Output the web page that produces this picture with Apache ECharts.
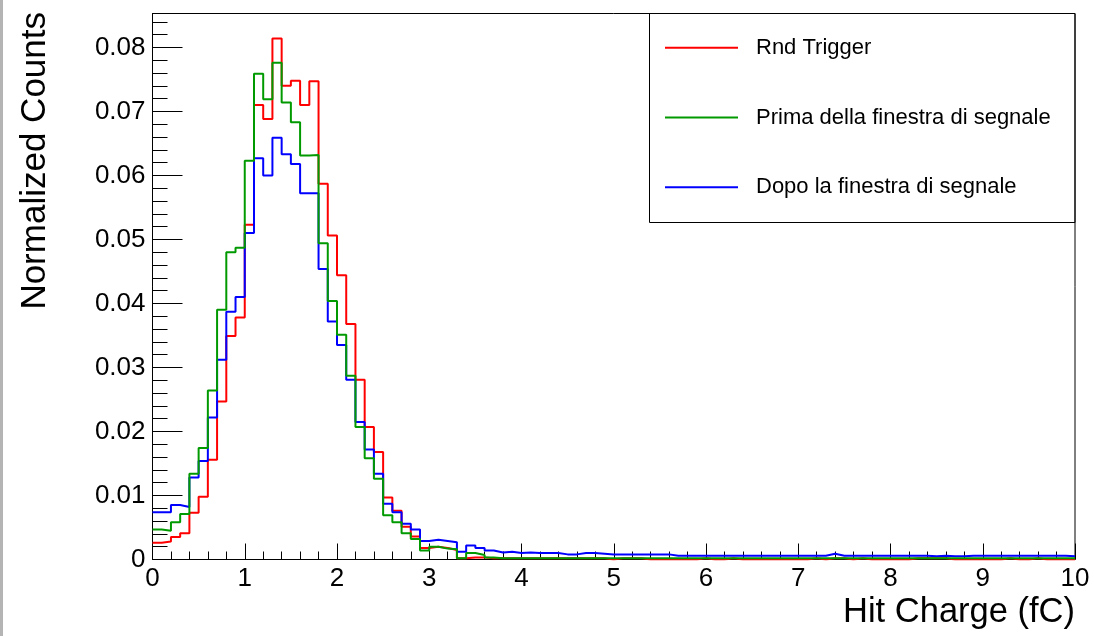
<!DOCTYPE html>
<html>
<head>
<meta charset="utf-8">
<script src="https://cdn.jsdelivr.net/npm/echarts@6.0.0/dist/echarts.min.js"></script>
<style>
  html, body { margin: 0; padding: 0; background: #fff; }
  #chart { width: 1094px; height: 636px; }
</style>
</head>
<body>
<div id="chart"></div>
<script>
// Histogram binning: 100 bins of 0.1 fC between 0 and 10 fC
const X_MIN = 0;
const X_MAX = 10;
const BIN_WIDTH = 0.1;

const xTickLabels = ['0', '1', '2', '3', '4', '5', '6', '7', '8', '9', '10'];
const yTickLabels = ['0', '0.01', '0.02', '0.03', '0.04', '0.05', '0.06', '0.07', '0.08'];

const seriesNames = ['Rnd Trigger', 'Prima della finestra di segnale', 'Dopo la finestra di segnale'];

// Normalized counts per bin (bin 0 = [0, 0.1) fC ... bin 99 = [9.9, 10) fC)
const rndTrigger = [
  0.0026, 0.0028, 0.0035, 0.0041, 0.0073, 0.0098, 0.0156, 0.0247, 0.0349, 0.0378,
  0.0523, 0.0710, 0.0688, 0.0814, 0.0740, 0.0748, 0.0710, 0.0747, 0.0587, 0.0506,
  0.0444, 0.0368, 0.0281, 0.0207, 0.0168, 0.0097, 0.0076, 0.0051, 0.0036, 0.0018,
  0.0020, 0.0018, 0.0015, 0.0002, 0.0003, 0.0003, 0.0002, 0.0002, 0.0002, 0.0002,
  0.0002, 0.0002, 0.0002, 0.0002, 0.0002, 0.0002, 0.0002, 0.0002, 0.0002, 0.0000,
  0.0002, 0.0002, 0.0002, 0.0000, 0.0000, 0.0000, 0.0000, 0.0000, 0.0000, 0.0002,
  0.0000, 0.0000, 0.0002, 0.0000, 0.0000, 0.0000, 0.0000, 0.0000, 0.0000, 0.0000,
  0.0000, 0.0002, 0.0000, 0.0002, 0.0002, 0.0000, 0.0002, 0.0000, 0.0000, 0.0000,
  0.0000, 0.0000, 0.0002, 0.0002, 0.0002, 0.0002, 0.0000, 0.0000, 0.0000, 0.0000,
  0.0000, 0.0000, 0.0002, 0.0000, 0.0000, 0.0002, 0.0000, 0.0000, 0.0000, 0.0000
];

const primaFinestra = [
  0.0047, 0.0045, 0.0058, 0.0071, 0.0134, 0.0174, 0.0264, 0.0390, 0.0480, 0.0487,
  0.0623, 0.0759, 0.0719, 0.0776, 0.0714, 0.0683, 0.0631, 0.0632, 0.0494, 0.0404,
  0.0351, 0.0287, 0.0207, 0.0158, 0.0126, 0.0069, 0.0058, 0.0041, 0.0032, 0.0014,
  0.0020, 0.0017, 0.0016, 0.0002, 0.0010, 0.0007, 0.0003, 0.0002, 0.0002, 0.0002,
  0.0002, 0.0002, 0.0002, 0.0002, 0.0002, 0.0002, 0.0002, 0.0002, 0.0002, 0.0002,
  0.0002, 0.0002, 0.0002, 0.0002, 0.0002, 0.0002, 0.0002, 0.0002, 0.0002, 0.0002,
  0.0002, 0.0002, 0.0002, 0.0002, 0.0002, 0.0002, 0.0002, 0.0002, 0.0002, 0.0002,
  0.0002, 0.0002, 0.0002, 0.0002, 0.0002, 0.0002, 0.0002, 0.0002, 0.0002, 0.0002,
  0.0002, 0.0002, 0.0002, 0.0002, 0.0002, 0.0002, 0.0002, 0.0002, 0.0002, 0.0002,
  0.0002, 0.0002, 0.0002, 0.0002, 0.0002, 0.0002, 0.0002, 0.0002, 0.0002, 0.0002
];

const dopoFinestra = [
  0.0074, 0.0074, 0.0085, 0.0082, 0.0128, 0.0154, 0.0222, 0.0312, 0.0387, 0.0410,
  0.0510, 0.0627, 0.0600, 0.0659, 0.0633, 0.0618, 0.0572, 0.0572, 0.0454, 0.0372,
  0.0335, 0.0281, 0.0215, 0.0172, 0.0134, 0.0087, 0.0074, 0.0056, 0.0047, 0.0029,
  0.0031, 0.0029, 0.0027, 0.0012, 0.0022, 0.0018, 0.0014, 0.0011, 0.0012, 0.0010,
  0.0011, 0.0010, 0.0010, 0.0010, 0.0008, 0.0008, 0.0010, 0.0010, 0.0009, 0.0008,
  0.0008, 0.0008, 0.0008, 0.0008, 0.0008, 0.0008, 0.0006, 0.0006, 0.0006, 0.0006,
  0.0006, 0.0006, 0.0006, 0.0006, 0.0006, 0.0006, 0.0006, 0.0006, 0.0006, 0.0006,
  0.0006, 0.0006, 0.0006, 0.0009, 0.0006, 0.0006, 0.0006, 0.0006, 0.0006, 0.0006,
  0.0006, 0.0006, 0.0006, 0.0006, 0.0005, 0.0006, 0.0005, 0.0005, 0.0006, 0.0006,
  0.0006, 0.0006, 0.0006, 0.0006, 0.0006, 0.0006, 0.0006, 0.0006, 0.0006, 0.0005
];

// Build step-line points at bin low edges, closing at the last bin's high edge
function toHistPoints(values) {
  const pts = values.map((v, i) => [+(X_MIN + i * BIN_WIDTH).toFixed(2), v]);
  pts.push([X_MAX, values[values.length - 1]]);
  return pts;
}

const FONT = '"Liberation Sans", Arial, Helvetica, sans-serif';
const chart = echarts.init(document.getElementById('chart'), null, { renderer: 'canvas' });

const histSeries = (name, values, color) => ({
  name: name,
  type: 'line',
  step: 'end',
  data: toHistPoints(values),
  symbol: 'none',
  showSymbol: false,
  lineStyle: { color: color, width: 2 },
  itemStyle: { color: color },
  animation: false,
  silent: true
});

chart.setOption({
  animation: false,
  backgroundColor: '#ffffff',
  grid: {
    left: 152.5, right: 19, top: 13.5, bottom: 76.5,
    show: true, borderColor: '#000', borderWidth: 1,
    containLabel: false, outerBoundsMode: 'none'
  },
  legend: {
    data: seriesNames,
    orient: 'vertical',
    left: 665, top: 35.7,
    padding: 0,
    itemGap: 45.8,
    itemWidth: 73, itemHeight: 2,
    icon: 'rect',
    textStyle: { fontFamily: FONT, fontSize: 22, color: '#000', lineHeight: 24, padding: [0, 0, 0, 13] },
    selectedMode: false
  },
  xAxis: {
    type: 'value',
    min: X_MIN, max: X_MAX, interval: 1,
    axisLine: { show: true, onZero: false, lineStyle: { color: '#000', width: 1 } },
    axisTick: { show: true, inside: true, length: 16, lineStyle: { color: '#000', width: 1 } },
    minorTick: { show: true, splitNumber: 5, length: 8, lineStyle: { color: '#000', width: 1 } },
    splitLine: { show: false },
    axisLabel: {
      color: '#000', fontFamily: FONT, fontSize: 26, margin: 6,
      formatter: (v) => xTickLabels[Math.round(v)] ?? ''
    },
    name: 'Hit Charge (fC)',
    nameLocation: 'end',
    nameGap: 0,
    nameMoveOverlap: false,
    nameTextStyle: {
      fontFamily: FONT, fontSize: 34.5, color: '#000',
      align: 'right', verticalAlign: 'top', lineHeight: 34,
      padding: [36, 0, 0, 0]
    }
  },
  yAxis: {
    type: 'value',
    min: 0, max: 0.0853, interval: 0.01,
    axisLine: { show: true, onZero: false, lineStyle: { color: '#000', width: 1 } },
    axisTick: { show: true, inside: true, length: 30, lineStyle: { color: '#000', width: 1 } },
    minorTick: { show: true, splitNumber: 5, length: 15, lineStyle: { color: '#000', width: 1 } },
    splitLine: { show: false },
    axisLabel: {
      color: '#000', fontFamily: FONT, fontSize: 26, margin: 7,
      showMaxLabel: false,
      formatter: (v) => {
        const idx = Math.round(v / 0.01);
        return (Math.abs(v - idx * 0.01) < 1e-6 && yTickLabels[idx] !== undefined) ? yTickLabels[idx] : '';
      }
    }
  },
  graphic: [
    { type: 'rect', left: 0, top: 0, shape: { x: 0, y: 0, width: 3, height: 636 }, style: { fill: '#b4b4b4' }, silent: true },
    { type: 'rect', shape: { x: 649.5, y: 13.5, width: 425.5, height: 209 }, style: { fill: 'none', stroke: '#000', lineWidth: 1 }, silent: true, z: 10 },
    {
      type: 'text', x: 35, y: 12, rotation: Math.PI / 2, silent: true,
      style: { text: 'Normalized Counts', font: '35px ' + FONT, fill: '#000', align: 'right', verticalAlign: 'middle' }
    }
  ],
  series: [
    histSeries(seriesNames[0], rndTrigger, '#ff0000'),
    histSeries(seriesNames[2], dopoFinestra, '#0000ff'),
    histSeries(seriesNames[1], primaFinestra, '#009a00')
  ]
});
</script>
</body>
</html>
